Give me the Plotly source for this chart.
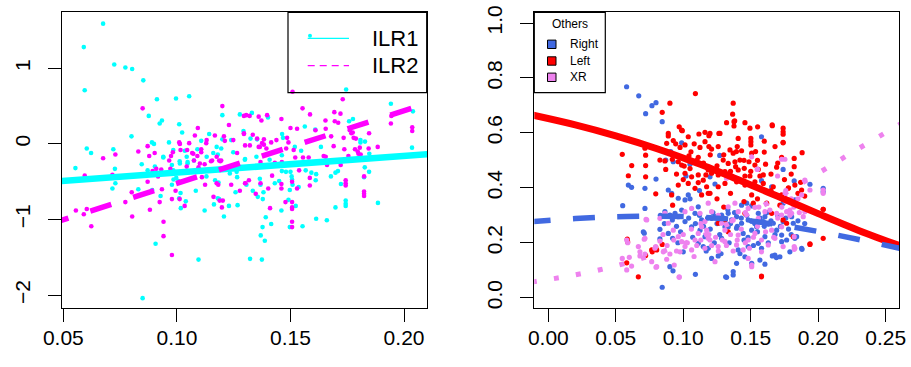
import plotly.graph_objects as go

# ---------------- data: left panel ----------------
ilr1_x = [0.0675,0.059,0.0724,0.0773,0.0803,0.0852,0.0594,0.0912,0.0996,0.1054,0.0876,0.0934,0.0924,0.101,0.1023,0.080,0.120,0.1277,0.1293,0.1142,
          0.1107,0.120,0.1239,0.0603,0.0622,0.072,0.089,0.0899,0.0965,0.109,0.116,0.118,0.1195,0.130,0.094,0.1035,0.1012,0.1047,
          0.0553,0.0727,0.0729,0.0716,0.0845,0.083,0.0891,0.0928,0.0978,0.0978,0.1016,0.101,0.1039,0.1017,0.1083,0.113,0.1168,0.1183,0.1122,0.1163,
          0.118,0.1186,0.1207,0.1229,0.1267,0.1258,0.1265,0.0906,0.1095,0.0849,0.1047,0.1075,0.0871,0.0997,0.1007,0.0985,
          0.1745,0.1942,0.2039,0.133,0.1401,0.1563,0.1609,0.1758,0.1775,0.1828,0.2035,0.1463,0.1467,0.1353,0.1324,0.1519,0.1547,0.1634,0.1408,0.1462,0.1847,
          0.1827,0.1846,0.1824,0.1885,0.1743,0.1743,0.1743,0.1698,0.1660,0.1613,0.1553,0.1497,0.1523,0.1491,0.146,0.1415,0.1391,0.1377,0.1369,0.1387,
          0.1322,0.1374,0.1356,0.1378,0.1334,0.1381,0.1306,0.1368,0.1431,0.145,0.1365,0.1497,0.1509,0.1536,0.1611,0.1613,0.1592,0.1567,0.1678,0.1698,
          0.1709,0.1722,0.1462,0.148,0.150,0.1505,0.1507,0.1808,0.1808,
          0.1299,0.1336,0.1263,0.1233,0.1350,0.1248,0.1175,0.1131,0.1043,0.1013,0.0984,0.0925,0.0903,0.094,0.0984]
ilr1_y = [1.59,1.28,1.05,1.01,0.99,0.84,0.71,0.59,0.60,0.63,0.37,0.31,0.27,0.26,0.15,0.10,0.38,0.39,0.17,0.13,
          0.04,0.06,0.05,-0.06,-0.12,-0.07,0.02,0.0,0.02,-0.07,-0.12,-0.14,-0.06,-0.20,-0.18,-0.09,-0.23,-0.24,
          -0.32,-0.33,-0.52,-0.59,-0.27,-0.60,-0.61,-0.69,-0.28,-0.54,-0.65,-0.72,-0.76,-0.85,-0.62,-0.43,-0.48,-0.51,-0.88,-0.80,
          -0.72,-0.73,-0.96,-0.82,-0.81,-0.64,-0.44,-1.32,-1.53,-2.04,-0.26,-0.22,-0.35,-0.45,-0.49,-0.47,
          0.72,0.53,0.43,0.41,0.35,0.23,0.19,0.30,0.33,0.03,-0.05,0.13,0.08,0.06,0.07,-0.04,-0.09,-0.04,-0.21,-0.15,-0.13,
          -0.31,-0.37,-0.44,-0.78,-0.75,-0.79,-0.82,-0.84,-1.01,-0.99,-1.09,-1.10,-0.82,-0.74,-0.88,-1.06,-0.97,-1.10,-1.21,-1.28,
          -1.52,-1.53,-0.70,-0.73,-0.62,-0.64,-0.54,-0.54,-0.52,-0.49,-0.46,-0.61,-0.54,-0.57,-0.48,-0.40,-0.38,-0.35,-0.43,-0.38,
          -0.36,-0.53,-0.36,-0.37,-0.37,-0.43,-0.47,0.05,0.02,
          -0.21,-0.30,-0.37,-0.39,-0.17,-0.11,-0.04,-0.17,-0.17,-0.26,-0.35,-0.39,-0.30,-0.17,-0.08]

ilr2_x = [0.0849,0.120,0.1305,0.1229,0.1092,0.1079,0.1167,0.1207,0.1295,0.1211,0.1129,0.1054,0.101,0.0871,0.083,0.0902,0.0878,0.0729,0.0675,0.0982,
          0.1016,0.1045,0.1067,0.1107,0.1107,0.109,0.0974,0.0966,0.1075,0.1155,0.1186,0.1195,0.1265,0.13,
          0.0555,0.059,0.0603,0.0623,0.0594,0.0716,0.0773,0.0801,0.0803,0.0881,0.0871,0.0893,0.0909,0.0931,0.0917,0.0934,0.0924,0.0941,0.0941,0.0978,
          0.0978,0.1012,0.0994,0.1034,0.111,0.1124,0.1175,0.1182,0.1161,0.1188,0.1202,0.1198,0.1239,0.1277,0.13,0.1095,0.1122,0.115,0.1191,0.0971,
          0.1509,0.173,0.1553,0.1586,0.1693,0.1942,0.2036,0.2036,0.1295,0.132,0.136,0.1372,0.1397,0.146,0.1654,0.1695,0.171,0.15,0.1529,0.161,
          0.1655,0.1679,0.1734,0.1774,0.1778,0.1788,0.1295,0.1334,0.1353,0.1383,0.1415,0.1375,0.1383,0.136,0.1394,0.1485,0.1491,0.1481,0.1514,0.1521,
          0.1646,0.1655,0.1555,0.158,0.169,0.1737,0.1755,0.1784,0.1796,0.1799,0.1805,0.1809,0.1844,0.1884,0.1944,
          0.1419,0.1317,0.1302,0.1347,0.1368,0.1402,0.146,0.146,0.1507,0.1529,0.1538,0.1585,0.1585,0.1478,0.1507,0.1507,0.1507,0.141,0.1507,0.1507,
          0.1743,0.1743,0.1743,0.1824,0.1824,0.1824,0.1824,0.1661,0.1721,0.1368,0.1431,0.1462,0.1846,0.172,0.1761,0.1768,
          0.1321,0.1365,0.1438,0.1248,0.1175,0.1101,0.1043,0.1131,0.1072,0.1013]
ilr2_y = [0.47,0.50,0.38,0.25,0.21,0.11,0.11,0.10,0.14,0.04,0.01,0.01,0.02,-0.03,-0.10,-0.12,-0.16,-0.14,-0.19,-0.11,
          -0.08,-0.08,-0.12,-0.07,-0.11,-0.16,-0.16,-0.22,-0.22,-0.22,-0.22,-0.22,-0.12,-0.02,
          -0.88,-0.93,-0.86,-1.09,-0.42,-0.41,-0.77,-0.64,-0.96,-0.87,-0.50,-0.36,-0.33,-0.34,-0.43,-0.60,-0.77,-1.03,-1.22,-1.47,
          -0.73,-0.73,-0.62,-0.82,-0.44,-0.54,-0.52,-0.54,-0.70,-0.75,-0.75,-0.84,-0.54,-0.62,-0.52,-0.31,-0.27,-0.23,-0.23,-0.33,
          0.69,0.59,0.47,0.39,0.42,0.27,0.22,0.17,0.37,0.37,0.36,0.31,0.38,0.33,0.31,0.30,0.28,0.21,0.20,0.18,
          0.20,0.10,0.08,0.15,0.08,0.07,0.13,0.12,0.07,0.06,0.02,0.01,-0.01,-0.04,-0.06,0.08,0.02,-0.06,-0.08,-0.18,
          -0.16,-0.17,-0.18,-0.18,-0.03,-0.07,-0.16,-0.07,-0.10,-0.13,-0.05,-0.14,-0.06,-0.04,0.37,
          -0.42,-0.48,-0.52,-0.66,-0.52,-0.59,-0.53,-0.59,-0.50,-0.59,-0.35,-0.45,-0.55,-0.77,-0.77,-0.84,-0.86,-0.85,-1.03,-1.10,
          -0.48,-0.52,-0.55,-0.43,-0.63,-0.66,-0.69,-0.28,-0.28,-0.24,-0.25,-0.24,0.14,0.40,0.18,0.14,
          -0.02,-0.04,0.05,0.05,-0.17,-0.26,-0.30,0.05,-0.13,0.0]

# fitted lines (read at their ends)
ilr1_line_x = [0.0430, 0.2120]
ilr1_line_y = [-0.504, -0.132]
ilr2_line_x = [0.0430, 0.2120]
ilr2_line_y = [-1.069, 0.555]

# ---------------- data: right panel ----------------
right_x = [0.058,0.067,0.0768,0.0798,0.0721,0.0844,0.0585,0.158,0.0988,0.0907,0.0926,0.127,0.0798,0.0593,0.0617,0.0716,0.0551,0.0716,0.174,0.1939,
           0.2037,0.2037,0.188,0.0844,0.109,0.1314,0.137,0.166,0.169,0.1605,0.0704,0.0711,0.0827,0.0901,0.087,0.105,0.102,
           0.0924,0.1,0.0921,0.0889,0.0827,0.0864,0.0901,0.0939,0.0919,0.0963,0.1013,0.0988,0.0889,0.0914,0.0963,0.1013,0.1037,0.1111,0.1087,0.1136,
           0.1062,0.1124,0.1161,0.1111,0.1148,0.1198,0.1822,0.158,0.1235,0.1655,0.2037,0.1827,0.1815,0.174,0.1766,
           0.121,0.1235,0.1284,0.1333,0.1395,0.1432,0.147,0.1507,0.1556,0.1593,0.163,0.1667,0.1692,0.1729,0.1766,0.1729,0.1679,0.1716,0.1605,0.1556,
           0.1481,0.1407,0.1395,0.137,0.1321,0.1259,0.121,0.1185,0.1284,0.1333,0.1395,0.1444,0.1507,0.1544,0.1605,0.1481,0.1432,0.1358,0.1309,0.174,
           0.1803,0.1815,0.184,0.1877,0.179,0.1568,0.1507,0.1457,0.1827,
           0.095,0.098,0.104,0.107,0.109,0.112,0.115,0.118,0.12,0.122,0.125,0.127,0.13,0.133,0.135,0.138,0.14,0.143,0.145,0.147,
           0.15,0.153,0.155,0.157,0.16,0.162,0.165,0.168,0.17,0.172,0.176,0.178,0.18,0.185,0.19,0.123,0.117,0.128,0.134,0.142,
           0.148,0.152,0.158,0.163,0.105,0.112,0.096,0.086,0.083]
right_y = [0.768,0.735,0.699,0.710,0.670,0.641,0.580,0.586,0.564,0.532,0.495,0.518,0.432,0.41,0.402,0.398,0.335,0.325,0.467,0.413,
           0.398,0.386,0.176,0.038,0.085,0.076,0.083,0.152,0.146,0.122,0.24,0.235,0.214,0.113,0.501,0.486,0.443,
           0.098,0.167,0.216,0.234,0.249,0.313,0.301,0.307,0.283,0.295,0.277,0.319,0.392,0.38,0.362,0.356,0.374,0.331,0.307,0.283,
           0.258,0.246,0.222,0.198,0.186,0.44,0.425,0.426,0.414,0.404,0.297,0.356,0.341,0.344,0.358,
           0.289,0.295,0.301,0.307,0.295,0.337,0.344,0.334,0.307,0.277,0.268,0.271,0.246,0.228,0.21,0.204,0.155,0.149,0.222,0.198,
           0.186,0.174,0.125,0.095,0.074,0.152,0.143,0.18,0.216,0.258,0.253,0.234,0.246,0.258,0.295,0.283,0.271,0.283,0.258,0.277,
           0.295,0.271,0.222,0.18,0.167,0.137,0.125,0.149,0.216,
           0.26,0.24,0.29,0.22,0.27,0.30,0.26,0.29,0.25,0.31,0.27,0.23,0.29,0.32,0.27,0.31,0.26,0.29,0.21,0.30,
           0.28,0.27,0.24,0.29,0.26,0.31,0.28,0.23,0.30,0.26,0.29,0.25,0.23,0.28,0.27,0.20,0.17,0.16,0.20,0.16,
           0.22,0.19,0.18,0.20,0.36,0.39,0.20,0.27,0.30]

left_x = [0.109,0.137,0.0901,0.0844,0.0548,0.0618,0.0721,0.0721,0.0721,0.0593,0.0585,0.0581,0.0667,0.0721,0.0766,0.0796,0.0844,0.158,0.1939,0.2037,
          0.2037,0.1881,0.1822,0.1822,0.166,0.174,0.174,0.174,0.174,0.1551,0.1494,0.1457,0.1376,0.1376,0.1321,0.0988,0.097,0.0889,0.0889,0.1272,
          0.1501,0.1501,0.1501,0.0796,0.0588,0.077,0.0803,0.0921,0.0914,0.0963,0.1037,0.1087,0.1136,0.1173,0.1198,
          0.0993,0.1037,0.1116,0.1161,0.119,0.0877,0.0926,0.0944,0.0976,0.1013,0.1081,0.1124,0.1161,0.119,0.0716,0.0827,0.0864,0.0919,0.0963,0.087,
          0.0988,0.1007,0.1042,0.1057,0.1111,0.1013,0.1062,0.1111,0.1148,0.1111,0.1168,
          0.1366,0.1381,0.1659,0.1264,0.1198,0.1407,0.174,0.121,0.1259,0.1346,0.137,0.1394,0.1432,0.1507,0.1536,0.1729,0.1296,0.1333,0.1383,0.142,
          0.1388,0.1407,0.1452,0.1487,0.1531,0.1556,0.161,0.1692,0.1185,0.121,0.1259,0.1309,0.1358,0.1457,0.1494,0.1568,0.1593,
          0.1185,0.1259,0.1309,0.1395,0.1457,0.1531,0.1593,0.1667,0.1778,0.1827,0.1877,0.1729,0.1507,0.1618,0.1309,0.1259,0.1457,0.1655,0.1716,0.174,
          0.1766,0.2037,0.1939,0.158,0.1815,0.1333,0.1519,
          0.095,0.1,0.105,0.11,0.115,0.12,0.125,0.13,0.135,0.14,0.145,0.15,0.155,0.16,0.165,0.17,0.175,0.18,0.185,0.19,
          0.165,0.155,0.145,0.135,0.125,0.13,0.16,0.168,0.178,0.187]
left_y = [0.743,0.708,0.708,0.675,0.522,0.481,0.519,0.481,0.44,0.444,0.213,0.127,0.076,0.154,0.174,0.183,0.194,0.076,0.194,0.216,
          0.322,0.528,0.507,0.477,0.626,0.617,0.604,0.595,0.564,0.622,0.617,0.637,0.641,0.625,0.637,0.61,0.622,0.598,0.589,0.598,
          0.58,0.568,0.556,0.378,0.203,0.167,0.174,0.337,0.374,0.41,0.416,0.398,0.374,0.404,0.38,
          0.608,0.586,0.596,0.602,0.59,0.562,0.572,0.56,0.547,0.556,0.56,0.547,0.568,0.55,0.544,0.501,0.498,0.504,0.495,0.467,
          0.483,0.479,0.516,0.531,0.511,0.453,0.44,0.447,0.428,0.419,0.447,
          0.668,0.644,0.629,0.598,0.598,0.58,0.566,0.541,0.55,0.538,0.526,0.532,0.535,0.526,0.532,0.511,0.501,0.489,0.495,0.501,
          0.477,0.465,0.471,0.495,0.483,0.467,0.486,0.475,0.465,0.453,0.447,0.459,0.443,0.443,0.443,0.443,0.447,
          0.38,0.404,0.416,0.422,0.41,0.422,0.416,0.404,0.398,0.41,0.392,0.374,0.374,0.344,0.283,0.271,0.307,0.307,0.337,0.283,
          0.271,0.322,0.196,0.079,0.222,0.24,0.344,
          0.45,0.43,0.47,0.50,0.49,0.52,0.48,0.52,0.46,0.55,0.50,0.46,0.50,0.53,0.45,0.49,0.43,0.45,0.38,0.37,
          0.39,0.36,0.35,0.38,0.36,0.33,0.57,0.55,0.40,0.42]

xr_x = [0.0581,0.0588,0.0667,0.0679,0.097,0.1507,0.1822,0.1822,0.1822,0.1889,0.1939,0.1901,0.1753,0.1198,0.155,0.1507,0.0716,0.0729,0.079,0.0803,
        0.0548,0.0581,0.06,0.0617,0.0679,0.0716,0.0766,0.0798,0.0711,0.0724,0.0796,0.0827,0.0852,0.0877,0.0901,0.0933,0.097,
        0.0827,0.0864,0.0889,0.0926,0.0963,0.0988,0.1013,0.0976,0.1062,0.1087,0.1111,0.1136,0.1013,0.1062,0.1124,0.1161,0.1185,
        0.1729,0.1548,0.1699,0.1321,0.1395,
        0.1185,0.121,0.1284,0.1309,0.1333,0.1383,0.1407,0.1481,0.1531,0.1556,0.1605,0.1642,0.1692,0.1753,0.1778,0.1803,0.179,0.1729,0.1655,0.1531,
        0.1407,0.1481,0.1395,0.1309,0.1259,0.1198,0.1173,0.1235,0.1481,0.158,0.163,0.1679,0.1729,0.1507,0.174,0.1827,0.2037,0.2037,0.1901,0.1877,
        0.1766,0.1444,0.137,
        0.085,0.088,0.093,0.095,0.1,0.103,0.106,0.108,0.11,0.113,0.116,0.119,0.121,0.124,0.126,0.129,0.132,0.135,0.137,0.14,
        0.143,0.146,0.149,0.152,0.155,0.158,0.161,0.164,0.167,0.17,0.173,0.176,0.179,0.182,0.185,0.176,0.18,0.186,0.113,0.126,
        0.136,0.146,0.156]
xr_y = [0.21,0.2,0.186,0.167,0.076,0.119,0.186,0.176,0.222,0.295,0.392,0.428,0.504,0.471,0.468,0.513,0.216,0.283,0.18,0.113,
        0.143,0.101,0.147,0.115,0.152,0.159,0.131,0.111,0.213,0.285,0.186,0.206,0.167,0.14,0.159,0.119,0.074,
        0.289,0.307,0.271,0.246,0.222,0.204,0.186,0.167,0.174,0.21,0.234,0.258,0.313,0.325,0.307,0.277,0.216,
        0.504,0.467,0.443,0.435,0.435,
        0.344,0.313,0.271,0.246,0.331,0.344,0.313,0.325,0.329,0.289,0.313,0.319,0.307,0.374,0.356,0.307,0.319,0.301,0.246,0.234,
        0.228,0.21,0.192,0.204,0.186,0.21,0.246,0.131,0.143,0.167,0.192,0.216,0.258,0.113,0.186,0.18,0.392,0.38,0.313,0.374,
        0.313,0.174,0.283,
        0.23,0.19,0.21,0.17,0.23,0.20,0.25,0.15,0.19,0.21,0.18,0.23,0.19,0.22,0.17,0.21,0.19,0.23,0.17,0.21,
        0.25,0.20,0.18,0.22,0.26,0.21,0.24,0.27,0.22,0.29,0.33,0.35,0.30,0.33,0.36,0.39,0.36,0.31,0.27,0.30,
        0.28,0.31,0.33]

# fitted probability curves
curve_x = [-0.0148, 0.02, 0.05, 0.08, 0.11, 0.14, 0.17, 0.20, 0.23, 0.265]
curve_right = [0.276, 0.288, 0.295, 0.297, 0.294, 0.284, 0.266, 0.241, 0.212, 0.175]
curve_left = [0.668, 0.629, 0.589, 0.543, 0.490, 0.431, 0.369, 0.306, 0.245, 0.181]
curve_xr_x = [-0.0124, 0.02, 0.05, 0.08, 0.11, 0.14, 0.17, 0.20, 0.23, 0.265]
curve_xr = [0.057, 0.083, 0.116, 0.160, 0.216, 0.285, 0.365, 0.453, 0.543, 0.644]

left_xticks = [0.05, 0.10, 0.15, 0.20]
left_xtext = ["0.05", "0.10", "0.15", "0.20"]
left_yticks = [-2, -1, 0, 1]
left_ytext = ["\u22122", "\u22121", "0", "1"]
right_xticks = [0.0, 0.05, 0.10, 0.15, 0.20, 0.25]
right_xtext = ["0.00", "0.05", "0.10", "0.15", "0.20", "0.25"]
right_yticks = [0.0, 0.2, 0.4, 0.6, 0.8, 1.0]
right_ytext = ["0.0", "0.2", "0.4", "0.6", "0.8", "1.0"]

# ---------------- colours ----------------
CYAN = "#00FFFF"; MAG = "#FF00FF"; BLUE = "#4169E1"; RED = "#FF0000"; PINK = "#EE82EE"
FONT = "Liberation Sans, Arial, Helvetica, sans-serif"

W, H = 911, 367
def fx(p): return p / W
def fy(p): return 1 - p / H

fig = go.Figure()
dot = dict(size=4.6, line=dict(width=0))
fig.add_trace(go.Scatter(x=ilr1_x, y=ilr1_y, mode="markers", marker=dict(color=CYAN, **dot), xaxis="x", yaxis="y"))
fig.add_trace(go.Scatter(x=ilr2_x, y=ilr2_y, mode="markers", marker=dict(color=MAG, **dot), xaxis="x", yaxis="y"))
fig.add_trace(go.Scatter(x=ilr1_line_x, y=ilr1_line_y, mode="lines", line=dict(color=CYAN, width=6.5), xaxis="x", yaxis="y"))
fig.add_trace(go.Scatter(x=ilr2_line_x, y=ilr2_line_y, mode="lines", line=dict(color=MAG, width=5.5, dash="22px,23px"), xaxis="x", yaxis="y"))

dot2 = dict(size=5.2, line=dict(width=0))
fig.add_trace(go.Scatter(x=right_x, y=right_y, mode="markers", marker=dict(color=BLUE, **dot2), xaxis="x2", yaxis="y2"))
fig.add_trace(go.Scatter(x=left_x, y=left_y, mode="markers", marker=dict(color=RED, **dot2), xaxis="x2", yaxis="y2"))
fig.add_trace(go.Scatter(x=xr_x, y=xr_y, mode="markers", marker=dict(color=PINK, **dot2), xaxis="x2", yaxis="y2"))
fig.add_trace(go.Scatter(x=curve_x, y=curve_left, mode="lines", line=dict(color=RED, width=7, shape="spline"), xaxis="x2", yaxis="y2"))
fig.add_trace(go.Scatter(x=curve_x, y=curve_right, mode="lines", line=dict(color=BLUE, width=5.5, shape="spline", dash="22px,22.5px"), xaxis="x2", yaxis="y2"))
fig.add_trace(go.Scatter(x=curve_xr_x, y=curve_xr, mode="lines", line=dict(color=PINK, width=5, shape="spline", dash="5px,17.4px"), xaxis="x2", yaxis="y2"))

axis_common = dict(showgrid=False, zeroline=False, showline=True, mirror=True, linecolor="black", linewidth=1,
                   ticks="outside", ticklen=13, tickwidth=1, tickcolor="black", automargin=False,
                   tickfont=dict(family=FONT, size=21, color="black"))
xax = dict(ticklabelstandoff=-2, **axis_common)
yax = dict(ticklabelstandoff=10, tickangle=-90, **axis_common)

top, bot = 12.3, 308
fig.update_layout(
    width=W, height=H, autosize=False, showlegend=False,
    margin=dict(l=0, r=0, t=0, b=0, pad=0), paper_bgcolor="white", plot_bgcolor="white",
    xaxis=dict(domain=[fx(62), fx(427)], range=[0.0494, 0.2101], tickvals=left_xticks, ticktext=left_xtext,
               anchor="y", **xax),
    yaxis=dict(domain=[fy(bot), fy(top)], range=[-2.17, 1.74], tickvals=left_yticks, ticktext=left_ytext,
               anchor="x", **yax),
    xaxis2=dict(domain=[fx(534.3), fx(899.3)], range=[-0.0104, 0.2601], tickvals=right_xticks, ticktext=right_xtext,
                anchor="y2", **xax),
    yaxis2=dict(domain=[fy(bot), fy(top)], range=[-0.0375, 1.039], tickvals=right_yticks, ticktext=right_ytext,
                anchor="x2", **yax),
)

shapes = []
annots = []
# left legend
shapes.append(dict(type="rect", xref="paper", yref="paper", x0=fx(288), x1=fx(426.7), y0=fy(92.7), y1=fy(top),
                   line=dict(color="black", width=1.2), fillcolor="rgba(0,0,0,0)"))
shapes.append(dict(type="line", xref="paper", yref="paper", x0=fx(307.7), x1=fx(349), y0=fy(38.3), y1=fy(38.3),
                   line=dict(color=CYAN, width=1.3)))
shapes.append(dict(type="circle", xref="paper", yref="paper", x0=fx(308), x1=fx(312), y0=fy(37.7), y1=fy(33.7),
                   line=dict(width=0), fillcolor=CYAN))
shapes.append(dict(type="line", xref="paper", yref="paper", x0=fx(307.7), x1=fx(349), y0=fy(65.7), y1=fy(65.7),
                   line=dict(color=MAG, width=1.3, dash="7px,5px")))
annots.append(dict(x=fx(370), y=fy(38.3), xref="paper", yref="paper", text="ILR1", showarrow=False,
                   xanchor="left", yanchor="middle", font=dict(family=FONT, size=22, color="black")))
annots.append(dict(x=fx(370), y=fy(65.7), xref="paper", yref="paper", text="ILR2", showarrow=False,
                   xanchor="left", yanchor="middle", font=dict(family=FONT, size=22, color="black")))
# right legend
shapes.append(dict(type="rect", xref="paper", yref="paper", x0=fx(534.3), x1=fx(605.3), y0=fy(92.7), y1=fy(top),
                   line=dict(color="black", width=1.2), fillcolor="rgba(0,0,0,0)"))
annots.append(dict(x=fx(569.5), y=fy(23.5), xref="paper", yref="paper", text="Others", showarrow=False,
                   xanchor="center", yanchor="middle", font=dict(family=FONT, size=12, color="black")))
for lab, col, yy in [("Right", BLUE, 44.3), ("Left", RED, 61.0), ("XR", PINK, 77.3)]:
    shapes.append(dict(type="rect", xref="paper", yref="paper", x0=fx(547.5), x1=fx(556), y0=fy(yy + 4.2), y1=fy(yy - 4.2),
                       line=dict(color="black", width=1), fillcolor=col))
    annots.append(dict(x=fx(567.5), y=fy(yy), xref="paper", yref="paper", text=lab, showarrow=False,
                       xanchor="left", yanchor="middle", font=dict(family=FONT, size=12, color="black")))
fig.update_layout(shapes=shapes, annotations=annots)

fig.write_html("out.html")
